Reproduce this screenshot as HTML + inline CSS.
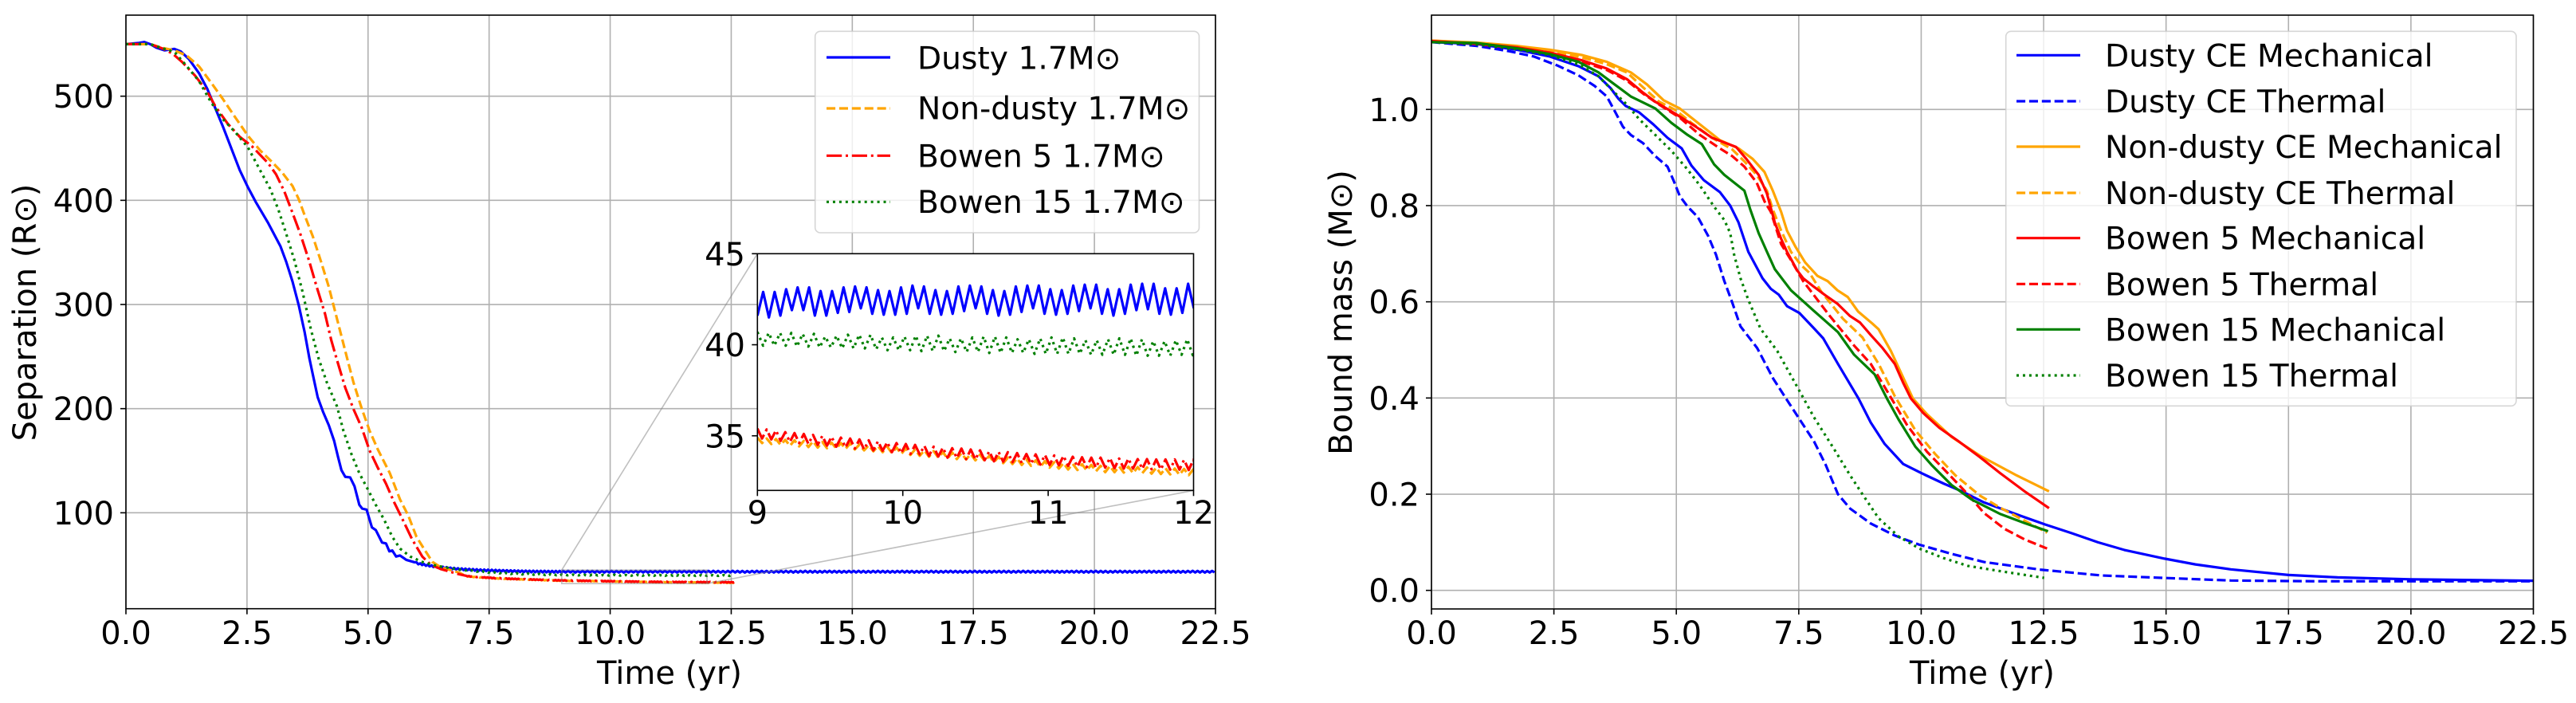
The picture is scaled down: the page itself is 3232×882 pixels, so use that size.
<!DOCTYPE html>
<html lang="en">
<head>
<meta charset="utf-8">
<title>Separation and bound mass over time</title>
<style>
html,body{margin:0;padding:0;background:#fff;width:3232px;height:882px;overflow:hidden}
svg{display:block}
text{font-family:"DejaVu Sans","Liberation Sans",sans-serif;font-size:40px;fill:#000}
.legend text{font-size:39.2px}
</style>
</head>
<body>
<svg id="figure" xmlns="http://www.w3.org/2000/svg" width="3232" height="882" viewBox="0 0 3232 882">
<defs>
<clipPath id="clip-left"><rect x="158" y="19" width="1367" height="744.7"/></clipPath>
<clipPath id="clip-right"><rect x="1796" y="19" width="1382.5" height="745"/></clipPath>
<clipPath id="clip-inset"><rect x="950.3" y="318.3" width="547.2" height="297"/></clipPath>
</defs>
<rect x="0" y="0" width="3232" height="882" fill="#fff"/>

<g id="left-grid"></g>
<g id="left-series" clip-path="url(#clip-left)"></g>
<g id="left-ticks"></g>
<rect x="158" y="19" width="1367" height="744.7" fill="none" stroke="#000" stroke-width="1.6"/>
<text x="45" y="392" text-anchor="middle" transform="rotate(-90 45 392)">Separation (R⊙)</text>
<text x="840" y="858" text-anchor="middle">Time (yr)</text>

<g fill="none" stroke="#808080" stroke-opacity="0.5" stroke-width="1.6">
<rect id="indicator-box"/>
<line id="indicator-top"/>
<line id="indicator-bottom"/>
</g>

<g class="legend">
<rect x="1022.7" y="39.3" width="481.8" height="252.7" rx="6.5" fill="#fff" fill-opacity="0.8" stroke="#ccc" stroke-opacity="0.8" stroke-width="1.6"/>
<g><line x1="1037" x2="1117" y1="72" y2="72" stroke="#0000ff" stroke-width="3.2"/><text x="1151" y="86.5">Dusty 1.7M⊙</text></g>
<g><line x1="1037" x2="1117" y1="136" y2="136" stroke="#ffa500" stroke-width="3.2" stroke-dasharray="11.1 4.8"/><text x="1151" y="149.5">Non-dusty 1.7M⊙</text></g>
<g><line x1="1037" x2="1117" y1="195.3" y2="195.3" stroke="#ff0000" stroke-width="3.2" stroke-dasharray="19.2 4.8 3 4.8"/><text x="1151" y="209.3">Bowen 5 1.7M⊙</text></g>
<g><line x1="1037" x2="1117" y1="253.3" y2="253.3" stroke="#008000" stroke-width="3.2" stroke-dasharray="3 4.95"/><text x="1151" y="267">Bowen 15 1.7M⊙</text></g>
</g>

<g>
<rect x="950.3" y="318.3" width="547.2" height="297" fill="#fff"/>
<g id="inset-series" clip-path="url(#clip-inset)"></g>
<g id="inset-ticks"></g>
<rect x="950.3" y="318.3" width="547.2" height="297" fill="none" stroke="#000" stroke-width="1.6"/>
</g>

<g id="right-grid"></g>
<g id="right-series" clip-path="url(#clip-right)"></g>
<g id="right-ticks"></g>
<rect x="1796" y="19" width="1382.5" height="745" fill="none" stroke="#000" stroke-width="1.6"/>
<text x="1696" y="392" text-anchor="middle" transform="rotate(-90 1696 392)">Bound mass (M⊙)</text>
<text x="2487" y="858" text-anchor="middle">Time (yr)</text>

<g class="legend">
<rect x="2516.7" y="39.3" width="640.3" height="470" rx="6.5" fill="#fff" fill-opacity="0.8" stroke="#ccc" stroke-opacity="0.8" stroke-width="1.6"/>
<g><line x1="2530" x2="2610" y1="69.3" y2="69.3" stroke="#0000ff" stroke-width="3.2"/><text x="2641" y="83.3">Dusty CE Mechanical</text></g>
<g><line x1="2530" x2="2610" y1="127" y2="127" stroke="#0000ff" stroke-width="3.2" stroke-dasharray="11.1 4.8"/><text x="2641" y="141">Dusty CE Thermal</text></g>
<g><line x1="2530" x2="2610" y1="184" y2="184" stroke="#ffa500" stroke-width="3.2"/><text x="2641" y="198">Non-dusty CE Mechanical</text></g>
<g><line x1="2530" x2="2610" y1="242" y2="242" stroke="#ffa500" stroke-width="3.2" stroke-dasharray="11.1 4.8"/><text x="2641" y="256">Non-dusty CE Thermal</text></g>
<g><line x1="2530" x2="2610" y1="298.7" y2="298.7" stroke="#ff0000" stroke-width="3.2"/><text x="2641" y="312.7">Bowen 5 Mechanical</text></g>
<g><line x1="2530" x2="2610" y1="356.3" y2="356.3" stroke="#ff0000" stroke-width="3.2" stroke-dasharray="11.1 4.8"/><text x="2641" y="370.3">Bowen 5 Thermal</text></g>
<g><line x1="2530" x2="2610" y1="413.3" y2="413.3" stroke="#008000" stroke-width="3.2"/><text x="2641" y="427.3">Bowen 15 Mechanical</text></g>
<g><line x1="2530" x2="2610" y1="471" y2="471" stroke="#008000" stroke-width="3.2" stroke-dasharray="3 4.95"/><text x="2641" y="485">Bowen 15 Thermal</text></g>
</g>
</svg>

<script>
// ---------- tick labels ----------
const timeTicks = ['0.0','2.5','5.0','7.5','10.0','12.5','15.0','17.5','20.0','22.5'];
const separationTicks = ['100','200','300','400','500'];
const massTicks = ['0.0','0.2','0.4','0.6','0.8','1.0'];
const insetTimeTicks = ['9','10','11','12'];
const insetSeparationTicks = ['35','40','45'];

// ---------- separation: smooth early parts (time, value) ----------
const dustySepT = [0,.25,.38,.5,.63,.8,1.0,1.13,1.3,1.51,1.68,1.85,2.01,2.18,2.35,2.52,2.68,2.94,3.19,3.31,3.44,3.57,3.69,3.79,3.86,3.96,4.07,4.19,4.3,4.38,4.45,4.53,4.63,4.72,4.82,4.88,4.97,5.08,5.16,5.29,5.37,5.44,5.5,5.58,5.66,5.79,5.96];
const dustySepV = [550,551,552,550,546.5,544,545.4,543,535.7,522,507,488,470,449.5,429,412.5,398.5,378,356,341,322,299,273.5,248,232.6,211,197,184,169,153.6,141,134.5,134,125.5,107.6,104,103,86,83.4,71.4,70.6,63,63.8,58,59,54.8,52.5];
const nonDustySepT = [0,.5,.75,1.0,1.26,1.51,1.76,2.01,2.27,2.52,2.77,3.02,3.23,3.44,3.57,3.69,3.86,4.03,4.19,4.36,4.57,4.7,4.87,5.03,5.2,5.45,5.66,5.83,6.0,6.17,6.33,6.5,6.88];
const nonDustySepV = [550,550,546.4,544,538.8,528.6,513,496.7,478.8,462,448,436.7,426.5,413.8,401,385.7,365.3,341,316.8,286,248,225,200,179,161,138,112.8,97.4,77,64.3,52.8,47.7,42.6];
const bowen5SepT = [0,.5,.75,.96,1.17,1.43,1.68,1.85,2.1,2.35,2.6,2.94,3.1,3.27,3.44,3.6,3.78,3.94,4.11,4.24,4.35,4.53,4.7,4.87,5.03,5.2,5.37,5.54,5.7,5.91,6.12,6.29,6.5,6.88];
const bowen5SepV = [550,550,545.9,541,532.4,519.6,504.3,490,473.7,461,452,435.5,425,408.7,388,367.9,342.3,316.8,291.3,265.8,248,220,199.5,181.6,160,143.4,128,110,94.9,74.5,58,50.3,46,41];
const bowen15SepT = [0,.5,.75,1.0,1.26,1.51,1.76,2.01,2.27,2.52,2.77,2.98,3.15,3.31,3.48,3.65,3.82,3.98,4.15,4.36,4.49,4.66,4.82,4.99,5.16,5.33,5.5,5.66,5.87,6.12,6.42,6.88];
const bowen15SepV = [550,550,546,542.6,528.6,514.5,494,477.6,464.8,450.8,429,411,390.8,367.9,342.3,311.7,276,248,225,202,179,156,138,123,107.6,93.6,77,65.6,58,52.8,49,45.5];

// ---------- separation: orbital oscillation, upper and lower envelopes read per cycle ----------
const dustyLeadHigh = [52.5,51.5,50.8,50.2,49.6,49,48.6,48.2,47.8,47.4,47.1,46.8,46.6,46.4,46.2,46,45.8,45.6,45.5,45.4,45.3,45.2,45.1,45,44.9,44.8,44.7,44.6,44.5,44.5,44.4,44.4,44.3,44.3,44.3,44.2,44.2,44.2,44.2];
const dustyLeadLow = [50.5,49.8,49.1,48.5,47.9,47.4,47,46.6,46.2,45.8,45.5,45.2,45,44.8,44.6,44.4,44.2,44.1,44,43.9,43.8,43.7,43.6,43.5,43.4,43.3,43.2,43.1,43,43,42.9,42.9,42.8,42.8,42.8,42.7,42.7,42.7,42.7];
const dustyBandHigh = [44.2,44.3,44.2,44.1,44.2,44.3,44.2,44.2,44.1,44.2,44.3,44.2,44.2,44.1,44.2,44.2,44.3,44.2,44.1,44.2,44.3,44.2,44.2,44.1,44.2,44.3,44.2,44.2,44.1,44.2,44.2,44.3,44.2,44.1,44.2,44.3,44.2,44.2,44.1,44.2,44.3,44.2,44.2,44.1,44.2,44.2,44.3,44.2,44.1,44.2,44.3,44.2,44.2,44.1,44.2,44.3,44.2,44.2,44.1,44.2,44.2,44.3,44.2,44.1,44.2,44.3,44.2,44.2,44.1,44.2,44.3,44.2,44.2,44.1,44.2,44.2,44.3,44.2,44.1,44.2,44.3,44.2,44.2,44.1,44.2,44.3,44.2,44.2,44.1,44.2,44.2,44.3,44.2,44.1,44.2,44.3,44.2,44.2,44.1,44.2,44.3,44.2,44.2,44.1,44.2,44.2,44.3,44.2,44.1,44.2,44.3,44.2,44.2,44.1,44.2,44.3,44.2,44.2,44.1,44.2,44.2,44.3,44.2,44.1,44.2,44.3,44.2,44.2,44.1,44.2,44.3,44.2,44.2,44.1,44.2];
const dustyBandLow = [42.7,42.8,42.6,42.7,42.7,42.8,42.7,42.6,42.7,42.8,42.7,42.7,42.6,42.7,42.8,42.7,42.7,42.6,42.7,42.8,42.7,42.7,42.6,42.7,42.8,42.7,42.7,42.6,42.7,42.8,42.7,42.7,42.6,42.7,42.8,42.7,42.7,42.6,42.7,42.8,42.7,42.7,42.6,42.7,42.8,42.7,42.7,42.6,42.7,42.8,42.7,42.7,42.6,42.7,42.8,42.7,42.7,42.6,42.7,42.8,42.7,42.7,42.6,42.7,42.8,42.7,42.7,42.6,42.7,42.8,42.7,42.7,42.6,42.7,42.8,42.7,42.7,42.6,42.7,42.8,42.7,42.7,42.6,42.7,42.8,42.7,42.7,42.6,42.7,42.8,42.7,42.7,42.6,42.7,42.8,42.7,42.7,42.6,42.7,42.8,42.7,42.7,42.6,42.7,42.8,42.7,42.7,42.6,42.7,42.8,42.7,42.7,42.6,42.7,42.8,42.7,42.7,42.6,42.7,42.8,42.7,42.7,42.6,42.7,42.8,42.7,42.7,42.6,42.7,42.8,42.7,42.7,42.6,42.7,42.8];

const dustyInsetLow = [41.6,41.5,41.6,41.9,41.9,41.6,41.6,41.75,41.8,42.0,41.7,41.65,41.65,41.7,42.0,41.7,41.65,41.7,41.85,42.0,41.7,41.6,41.65,41.8,42.0,41.7,41.65,41.7,41.85,42.0,41.7,41.6,41.7,41.9,41.95,41.7,41.65,41.75,42.0];
const dustyInsetHigh = [42.9,42.9,43.05,43.15,43.15,42.95,42.95,43.15,43.2,43.15,43.0,42.95,43.15,43.25,43.2,43.0,42.95,43.2,43.25,43.2,43.0,42.95,43.2,43.25,43.25,43.05,43.0,43.25,43.3,43.3,43.05,43.05,43.3,43.35,43.35,43.1,43.1,43.35];

const bowen15LeadHigh = [45.6,45.2,44.8,44.4,44.1,43.8,43.5,43.2,43,42.8,42.6,42.4,42.2,42.1,42,41.9,41.8,41.7,41.6,41.5,41.4,41.3,41.2,41.1,41,40.9];
const bowen15LeadLow = [44.6,44.2,43.8,43.4,43.1,42.8,42.5,42.2,42,41.8,41.6,41.4,41.2,41,40.9,40.8,40.7,40.6,40.5,40.4,40.3,40.2,40.1,40.1,40,40];
const bowen15High = [40.7,40.65,40.65,40.65,40.6,40.6,40.45,40.5,40.55,40.55,40.55,40.4,40.4,40.45,40.5,40.5,40.5,40.35,40.35,40.4,40.45,40.45,40.4,40.3,40.3,40.35,40.4,40.4,40.35,40.25,40.25,40.3,40.35,40.35,40.3,40.2,40.2,40.25,40.3,40.22,40.18,40.2,40.25,40.28,40.22,40.15];
const bowen15Low = [39.95,39.95,39.95,39.9,39.9,39.85,39.85,39.8,39.8,39.8,39.75,39.7,39.7,39.7,39.65,39.65,39.65,39.6,39.6,39.6,39.55,39.55,39.55,39.55,39.5,39.5,39.5,39.5,39.5,39.45,39.45,39.45,39.45,39.4,39.4,39.4,39.4,39.45,39.42,39.4,39.38,39.38,39.36,39.36,39.34,39.34];

const bowen5LeadHigh = [39.6,39.3,39,38.8,38.6,38.4,38.2,38,37.8,37.6,37.5,37.4,37.2,37.1,37,36.9,36.8,36.7,36.6,36.5,36.4,36.3,36.2,36.1,36,35.9,35.8,35.7,35.6,35.5,35.45];
const bowen5LeadLow = [39,38.7,38.4,38.2,38,37.8,37.6,37.4,37.2,37,36.9,36.8,36.6,36.5,36.4,36.3,36.2,36.1,36,35.9,35.8,35.7,35.6,35.5,35.4,35.3,35.2,35.1,35,34.95,34.9];
const bowen5High = [35.4,35.35,35.3,35.2,35.15,35.1,35.05,35.0,34.95,34.9,34.85,34.8,34.75,34.7,34.65,34.6,34.55,34.5,34.45,34.4,34.35,34.32,34.3,34.25,34.2,34.15,34.12,34.1,34.05,34.0,33.98,33.95,33.92,33.9,33.85,33.82,33.8,33.8,33.78,33.75,33.75,33.72,33.72,33.7,33.7,33.7,33.68,33.68,33.66,33.65,33.62,33.6,33.6,33.58,33.55,33.55,33.52];
const bowen5Low = [34.85,34.8,34.72,34.66,34.6,34.55,34.5,34.46,34.4,34.36,34.3,34.25,34.2,34.18,34.1,34.05,34.0,33.98,33.9,33.86,33.8,33.78,33.72,33.7,33.66,33.6,33.58,33.55,33.5,33.46,33.42,33.4,33.38,33.35,33.3,33.28,33.25,33.25,33.22,33.2,33.2,33.18,33.16,33.15,33.14,33.14,33.12,33.12,33.1,33.1,33.08,33.05,33.05,33.02,33,33,32.98];

const nonDustyLeadHigh = [39.3,39,38.7,38.5,38.3,38.1,37.9,37.7,37.5,37.3,37.2,37.1,36.9,36.8,36.7,36.6,36.5,36.4,36.3,36.2,36.1,36,35.9,35.8,35.7,35.6,35.5,35.4,35.3,35.1,35];
const nonDustyLeadLow = [38.8,38.5,38.2,38,37.8,37.6,37.4,37.2,37,36.8,36.7,36.6,36.4,36.3,36.2,36.1,36,35.9,35.8,35.7,35.6,35.5,35.4,35.3,35.2,35.1,35,34.9,34.8,34.7,34.65];
const nonDustyHigh = [34.9,34.85,34.82,34.78,34.75,34.72,34.7,34.66,34.62,34.6,34.58,34.52,34.48,34.44,34.4,34.36,34.3,34.25,34.2,34.16,34.1,34.08,34.05,34.0,33.96,33.9,33.85,33.8,33.76,33.7,33.65,33.6,33.55,33.5,33.46,33.44,33.4,33.35,33.34,33.32,33.3,33.28,33.26,33.25,33.22,33.2,33.18,33.16,33.15,33.12,33.1,33.08,33.06,33.05,33.02,33,33];
const nonDustyLow = [34.6,34.55,34.5,34.45,34.42,34.38,34.35,34.32,34.3,34.28,34.25,34.2,34.15,34.1,34.05,34.0,33.95,33.9,33.85,33.8,33.75,33.72,33.7,33.65,33.62,33.55,33.5,33.45,33.4,33.35,33.3,33.25,33.2,33.15,33.12,33.1,33.05,33.0,33.0,32.98,32.95,32.95,32.92,32.9,32.88,32.86,32.84,32.82,32.8,32.8,32.78,32.76,32.74,32.72,32.7,32.7,32.68];

// ---------- bound mass ----------
const dustyMechT = [0,.93,1.75,2.42,3.0,3.41,3.66,3.82,3.97,4.24,4.53,4.82,5.11,5.31,5.56,5.89,6.1,6.27,6.47,6.76,6.93,7.09,7.26,7.51,7.8,8.0,8.3,8.72,8.97,9.25,9.63,10.0,10.46,10.83,11.28,12.03,12.53,13.07,13.61,14.15,14.97,15.6,16.32,17.5,18.5,20,22.5];
const dustyMechV = [1.14,1.136,1.124,1.11,1.09,1.069,1.044,1.022,1.007,.994,.969,.941,.919,.883,.853,.828,.80,.765,.704,.649,.627,.615,.591,.577,.546,.524,.471,.399,.349,.305,.263,.244,.222,.206,.183,.155,.137,.119,.1,.084,.066,.054,.0437,.032,.027,.023,.02];
const dustyThermT = [0,.93,1.59,2.09,2.58,3.0,3.33,3.58,3.74,3.91,4.07,4.32,4.57,4.82,4.94,5.07,5.23,5.44,5.65,5.81,5.98,6.14,6.31,6.65,6.98,7.31,7.56,7.81,8.05,8.3,8.55,8.97,9.46,9.96,10.62,11.28,12.44,13.68,14.93,16.32,18,20,22.5];
const dustyThermV = [1.14,1.132,1.121,1.11,1.091,1.071,1.049,1.027,.997,.964,.947,.93,.903,.881,.853,.82,.798,.776,.737,.698,.643,.599,.549,.504,.44,.388,.349,.31,.261,.2,.17,.139,.114,.095,.076,.059,.043,.031,.026,.0205,.019,.019,.019];
const nonDustyMechT = [0,.93,1.75,2.42,3.08,3.58,4.07,4.4,4.74,5.07,5.48,5.89,6.27,6.56,6.8,6.97,7.14,7.26,7.43,7.63,7.88,8.09,8.29,8.5,8.71,9.0,9.13,9.38,9.63,9.83,10.12,10.62,11.2,11.95,12.61];
const nonDustyMechV = [1.143,1.139,1.132,1.124,1.113,1.099,1.077,1.052,1.019,1.002,.969,.936,.919,.897,.87,.831,.787,.748,.715,.682,.654,.643,.624,.61,.58,.555,.543,.498,.443,.399,.366,.319,.28,.239,.206];
const nonDustyThermT = [0,.93,1.75,2.42,3.08,3.58,3.99,4.32,4.65,4.98,5.31,5.73,6.14,6.39,6.64,6.85,6.97,7.14,7.34,7.55,7.72,7.96,8.4,8.8,9.13,9.46,9.88,10.29,10.7,11.2,11.61,12.11,12.57];
const nonDustyThermV = [1.143,1.138,1.131,1.122,1.108,1.094,1.077,1.046,1.016,.999,.972,.941,.917,.892,.864,.831,.792,.748,.704,.676,.66,.621,.565,.526,.471,.404,.333,.283,.239,.197,.172,.145,.12];
const bowen5MechT = [0,.93,1.75,2.42,3.08,3.58,3.99,4.32,4.57,4.98,5.4,5.73,6.22,6.43,6.68,6.85,7.01,7.14,7.26,7.47,7.59,7.8,8.05,8.29,8.54,8.75,8.97,9.21,9.46,9.63,9.79,10.04,10.37,10.79,11.2,11.61,12.11,12.61];
const bowen5MechV = [1.142,1.137,1.129,1.118,1.102,1.085,1.063,1.035,1.016,.991,.964,.941,.922,.897,.864,.825,.765,.731,.704,.665,.649,.632,.613,.596,.571,.557,.531,.504,.471,.432,.399,.369,.338,.308,.277,.244,.206,.171];
const bowen5ThermT = [0,.93,1.75,2.42,3.08,3.58,3.99,4.32,4.65,5.07,5.48,5.89,6.14,6.39,6.64,6.8,6.93,7.14,7.34,7.59,7.8,8.13,8.63,8.97,9.3,9.71,10.12,10.54,10.95,11.28,11.7,12.11,12.57];
const bowen5ThermV = [1.142,1.136,1.127,1.115,1.099,1.082,1.06,1.033,1.01,.983,.947,.919,.903,.881,.848,.809,.787,.72,.687,.643,.615,.571,.509,.471,.415,.344,.288,.244,.2,.161,.128,.106,.087];
const bowen15MechT = [0,.93,1.75,2.42,3.0,3.41,3.74,4.07,4.57,4.9,5.23,5.52,5.77,5.98,6.39,6.51,6.68,6.85,7.01,7.34,7.8,8.3,8.63,9.05,9.3,9.54,9.88,10.21,10.62,11.03,11.61,12.11,12.59];
const bowen15MechV = [1.14,1.138,1.127,1.115,1.099,1.077,1.052,1.027,1.002,.972,.947,.928,.886,.864,.831,.792,.743,.704,.668,.624,.582,.537,.49,.449,.399,.355,.299,.261,.219,.189,.159,.14,.123];
const bowen15ThermT = [0,.93,1.75,2.42,3.0,3.41,3.74,3.99,4.24,4.57,4.9,5.23,5.48,5.77,5.98,6.1,6.18,6.31,6.47,6.72,7.06,7.48,7.81,8.22,8.55,8.8,9.13,9.54,9.96,10.46,10.95,11.61,12.51];
const bowen15ThermV = [1.14,1.135,1.125,1.113,1.094,1.069,1.035,1.01,.98,.947,.914,.875,.842,.798,.77,.743,.698,.649,.604,.544,.498,.421,.36,.294,.239,.2,.15,.112,.087,.067,.051,.04,.026];

// ---------- axis functions ----------
const NS = 'http://www.w3.org/2000/svg';
const xLeft = t => 158 + t * (1367 / 22.5);
const yLeft = v => 763.7 - (v - 7.9) * 1.3067;
const xRight = t => 1796 + t * (1382.5 / 22.5);
const yRight = v => 740.7 - v * 603.4;
const xInset = t => 950.3 + (t - 9) * (547.2 / 3);
const yInset = v => 318.3 + (45 - v) * (297 / 13);

const SOLID = 'none';
const DASHED = '11.1 4.8';
const DASHDOT = '19.2 4.8 3 4.8';
const DOTTED = '3 4.95';

function zip(ts, vs) {
  return ts.map((t, i) => [t, vs[i]]);
}
function oscillation(start, halfStep, first, second) {
  const out = [];
  const n = Math.max(first.length, second.length);
  for (let i = 0; i < n; i++) {
    if (i < first.length) out.push([start + out.length * halfStep, first[i]]);
    if (i < second.length) out.push([start + out.length * halfStep, second[i]]);
  }
  return out;
}
function drawSeries(group, points, xf, yf, color, dash, name) {
  const el = document.createElementNS(NS, 'polyline');
  
  
  el.setAttribute('points', points.map(p => xf(p[0]).toFixed(2) + ',' + yf(p[1]).toFixed(2)).join(' '));
  el.setAttribute('fill', 'none');
  el.setAttribute('stroke', color);
  el.setAttribute('stroke-width', '3.2');
  el.setAttribute('stroke-linejoin', 'round');
  if (dash !== SOLID) el.setAttribute('stroke-dasharray', dash);
  group.appendChild(el);
}
function drawGridLine(group, x1, y1, x2, y2) {
  const el = document.createElementNS(NS, 'line');
  
  
  el.setAttribute('x1', x1); el.setAttribute('y1', y1);
  el.setAttribute('x2', x2); el.setAttribute('y2', y2);
  el.setAttribute('stroke', '#b0b0b0');
  el.setAttribute('stroke-width', '1.6');
  group.appendChild(el);
}
function drawTickMark(group, x1, y1, x2, y2) {
  const el = document.createElementNS(NS, 'line');
  
  
  el.setAttribute('x1', x1); el.setAttribute('y1', y1);
  el.setAttribute('x2', x2); el.setAttribute('y2', y2);
  el.setAttribute('stroke', '#000');
  el.setAttribute('stroke-width', '1.6');
  group.appendChild(el);
}
function drawTickLabel(group, x, y, anchor, label) {
  const el = document.createElementNS(NS, 'text');
  
  
  el.setAttribute('x', x);
  el.setAttribute('y', y);
  el.setAttribute('text-anchor', anchor);
  el.textContent = label;
  group.appendChild(el);
}
function drawAxisDecor(gridId, tickId, xf, yf, xLabels, yLabels, left, top, right, bottom, labelRight, labelBase) {
  const grid = document.getElementById(gridId);
  const ticks = document.getElementById(tickId);
  xLabels.forEach(label => {
    const x = xf(parseFloat(label));
    if (grid) drawGridLine(grid, x, top, x, bottom);
    drawTickMark(ticks, x, bottom, x, bottom + 7);
    drawTickLabel(ticks, x, labelBase, 'middle', label);
  });
  yLabels.forEach(label => {
    const y = yf(parseFloat(label));
    if (grid) drawGridLine(grid, left, y, right, y);
    drawTickMark(ticks, left - 7, y, left, y);
    drawTickLabel(ticks, labelRight, y + 14.5, 'end', label);
  });
}

// ---------- decorations ----------
drawAxisDecor('left-grid', 'left-ticks', xLeft, yLeft, timeTicks, separationTicks, 158, 19, 1525, 763.7, 143, 808);
drawAxisDecor('right-grid', 'right-ticks', xRight, yRight, timeTicks, massTicks, 1796, 19, 3178.5, 764, 1781, 808);
drawAxisDecor(null, 'inset-ticks', xInset, yInset, insetTimeTicks, insetSeparationTicks, 950.3, 318.3, 1497.5, 615.3, 935, 657);

// ---------- inset indicator ----------
const ib = document.getElementById('indicator-box');
ib.setAttribute('x', xLeft(9));
ib.setAttribute('y', yLeft(45));
ib.setAttribute('width', xLeft(12) - xLeft(9));
ib.setAttribute('height', yLeft(32) - yLeft(45));
const it = document.getElementById('indicator-top');
it.setAttribute('x1', xLeft(9)); it.setAttribute('y1', yLeft(45));
it.setAttribute('x2', xInset(9)); it.setAttribute('y2', yInset(45));
const ibt = document.getElementById('indicator-bottom');
ibt.setAttribute('x1', xLeft(12)); ibt.setAttribute('y1', yLeft(32));
ibt.setAttribute('x2', xInset(12)); ibt.setAttribute('y2', yInset(32));

// ---------- separation series ----------
const dustyFull = zip(dustySepT, dustySepV)
  .concat(oscillation(6.0, .0389, dustyLeadHigh, dustyLeadLow))
  .concat(oscillation(9.03, .05, dustyBandHigh, dustyBandLow));
const nonDustyOsc = oscillation(9, .0319, nonDustyHigh, nonDustyLow);
const bowen5Osc = oscillation(9, .0319, bowen5High, bowen5Low);
const bowen15Osc = oscillation(9, .0389, bowen15High, bowen15Low);
const nonDustyFull = zip(nonDustySepT, nonDustySepV).concat(oscillation(7.02, .0319, nonDustyLeadHigh, nonDustyLeadLow)).concat(nonDustyOsc);
const bowen5Full = zip(bowen5SepT, bowen5SepV).concat(oscillation(7.02, .0319, bowen5LeadHigh, bowen5LeadLow)).concat(bowen5Osc);
const bowen15Full = zip(bowen15SepT, bowen15SepV).concat(oscillation(6.98, .0389, bowen15LeadHigh, bowen15LeadLow)).concat(bowen15Osc);

const leftGroup = document.getElementById('left-series');
drawSeries(leftGroup, dustyFull, xLeft, yLeft, '#0000ff', SOLID, 'line-dusty-separation');
drawSeries(leftGroup, nonDustyFull, xLeft, yLeft, '#ffa500', DASHED, 'line-non-dusty-separation');
drawSeries(leftGroup, bowen5Full, xLeft, yLeft, '#ff0000', DASHDOT, 'line-bowen-5-separation');
drawSeries(leftGroup, bowen15Full, xLeft, yLeft, '#008000', DOTTED, 'line-bowen-15-separation');

const insetGroup = document.getElementById('inset-series');
drawSeries(insetGroup, oscillation(9, .0395, dustyInsetLow, dustyInsetHigh), xInset, yInset, '#0000ff', SOLID, 'inset-line-dusty');
drawSeries(insetGroup, nonDustyOsc, xInset, yInset, '#ffa500', DASHED, 'inset-line-non-dusty');
drawSeries(insetGroup, bowen5Osc, xInset, yInset, '#ff0000', DASHDOT, 'inset-line-bowen-5');
drawSeries(insetGroup, bowen15Osc, xInset, yInset, '#008000', DOTTED, 'inset-line-bowen-15');

// ---------- bound mass series ----------
const rightGroup = document.getElementById('right-series');
drawSeries(rightGroup, zip(dustyMechT, dustyMechV), xRight, yRight, '#0000ff', SOLID, 'line-dusty-mechanical');
drawSeries(rightGroup, zip(dustyThermT, dustyThermV), xRight, yRight, '#0000ff', DASHED, 'line-dusty-thermal');
drawSeries(rightGroup, zip(nonDustyMechT, nonDustyMechV), xRight, yRight, '#ffa500', SOLID, 'line-non-dusty-mechanical');
drawSeries(rightGroup, zip(nonDustyThermT, nonDustyThermV), xRight, yRight, '#ffa500', DASHED, 'line-non-dusty-thermal');
drawSeries(rightGroup, zip(bowen5MechT, bowen5MechV), xRight, yRight, '#ff0000', SOLID, 'line-bowen-5-mechanical');
drawSeries(rightGroup, zip(bowen5ThermT, bowen5ThermV), xRight, yRight, '#ff0000', DASHED, 'line-bowen-5-thermal');
drawSeries(rightGroup, zip(bowen15MechT, bowen15MechV), xRight, yRight, '#008000', SOLID, 'line-bowen-15-mechanical');
drawSeries(rightGroup, zip(bowen15ThermT, bowen15ThermV), xRight, yRight, '#008000', DOTTED, 'line-bowen-15-thermal');
</script>
</body>
</html>
